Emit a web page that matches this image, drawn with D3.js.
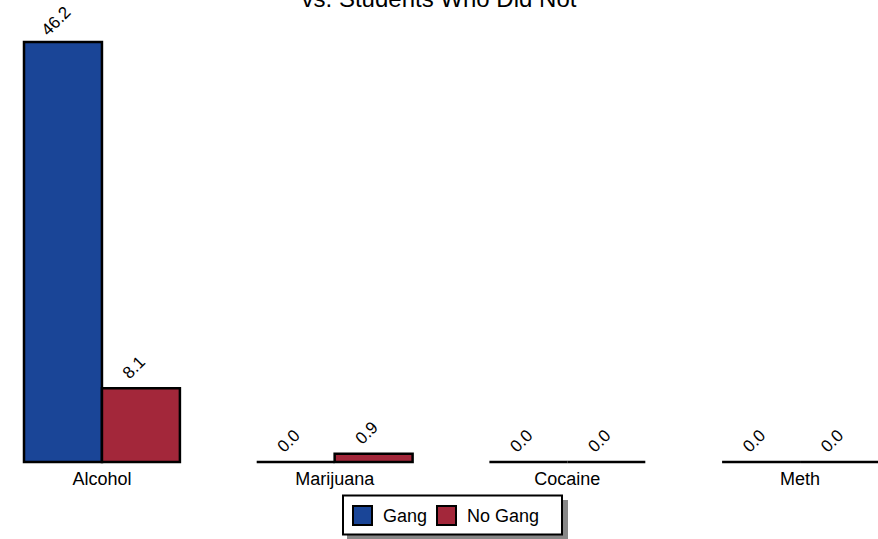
<!DOCTYPE html>
<html><head><meta charset="utf-8">
<script src="https://cdn.jsdelivr.net/npm/d3@7"></script>
<style>body{margin:0;background:#fff}svg{display:block;font-family:"Liberation Sans",Arial,sans-serif}</style>
</head><body><svg id="c" width="878" height="539"></svg>
<script>
const categories = ["Alcohol", "Marijuana", "Cocaine", "Meth"];
const seriesNames = ["Gang", "No Gang"];
const gangValues = [46.2, 0.0, 0.0, 0.0];
const noGangValues = [8.1, 0.9, 0.0, 0.0];
const colors = ["#1a4597", "#a3273a"];
const titleLine = "vs. Students Who Did Not";

const svg = d3.select("#c");
const baseY = 462;
const x0 = d3.scaleBand().domain(categories).range([24, 878]).paddingInner(0.33).paddingOuter(0);
const x1 = d3.scaleBand().domain(seriesNames).range([0, x0.bandwidth()]);
const y = d3.scaleLinear().domain([0, 46.2]).range([baseY, 42]);

svg.append("text").attr("x", 439).attr("y", 7).attr("text-anchor", "middle")
  .attr("font-size", 24).attr("fill", "#000").text(titleLine);

const data = categories.map((c, i) => ({cat: c, vals: [gangValues[i], noGangValues[i]]}));
const g = svg.selectAll("g.grp").data(data).join("g").attr("class", "grp")
  .attr("transform", d => `translate(${x0(d.cat)},0)`);

g.selectAll("path.bar").data(d => d.vals.map((v, j) => ({v, s: seriesNames[j], j}))).join("path")
  .attr("class", "bar")
  .attr("d", d => {
    const xa = x1(d.s), w = x1.bandwidth(), yt = y(d.v), h = baseY - yt;
    return `M${xa},${yt}h${w}v${h}h${-w}Z`;
  })
  .attr("fill", d => colors[d.j]).attr("stroke", "#000").attr("stroke-width", 2.5)
  .attr("stroke-linejoin", "miter");

g.selectAll("text.val").data(d => d.vals.map((v, j) => ({v, s: seriesNames[j], j}))).join("text")
  .attr("class", "val")
  .attr("transform", d => `translate(${x1(d.s) + x1.bandwidth() / 2 - 3},${y(d.v) - 17}) rotate(-45)`)
  .attr("text-anchor", "middle").attr("font-size", 17).text(d => d.v.toFixed(1));

const xAxis = d3.axisBottom(x0).tickSize(0).tickPadding(0);
const ax = svg.append("g").attr("transform", `translate(0,${baseY})`).call(xAxis);
ax.select(".domain").remove();
ax.selectAll("text").attr("font-size", 18).attr("fill", "#000").attr("dy", null).attr("y", 23)
  .attr("font-family", "Liberation Sans, Arial, sans-serif");

// legend
const lg = svg.append("g");
lg.append("rect").attr("x", 347).attr("y", 500).attr("width", 221).attr("height", 40).attr("fill", "#888");
lg.append("rect").attr("x", 343).attr("y", 495.5).attr("width", 219).attr("height", 39)
  .attr("fill", "#fff").attr("stroke", "#000").attr("stroke-width", 2);
const legX = [353, 437];
const items = lg.selectAll("g.it").data(seriesNames).join("g").attr("class", "it")
  .attr("transform", (d, i) => `translate(${legX[i]},506)`);
items.append("rect").attr("width", 19).attr("height", 19).attr("fill", (d, i) => colors[i])
  .attr("stroke", "#000").attr("stroke-width", 2);
items.append("text").attr("x", 30).attr("y", 16).attr("font-size", 18).text(d => d);
</script></body></html>
